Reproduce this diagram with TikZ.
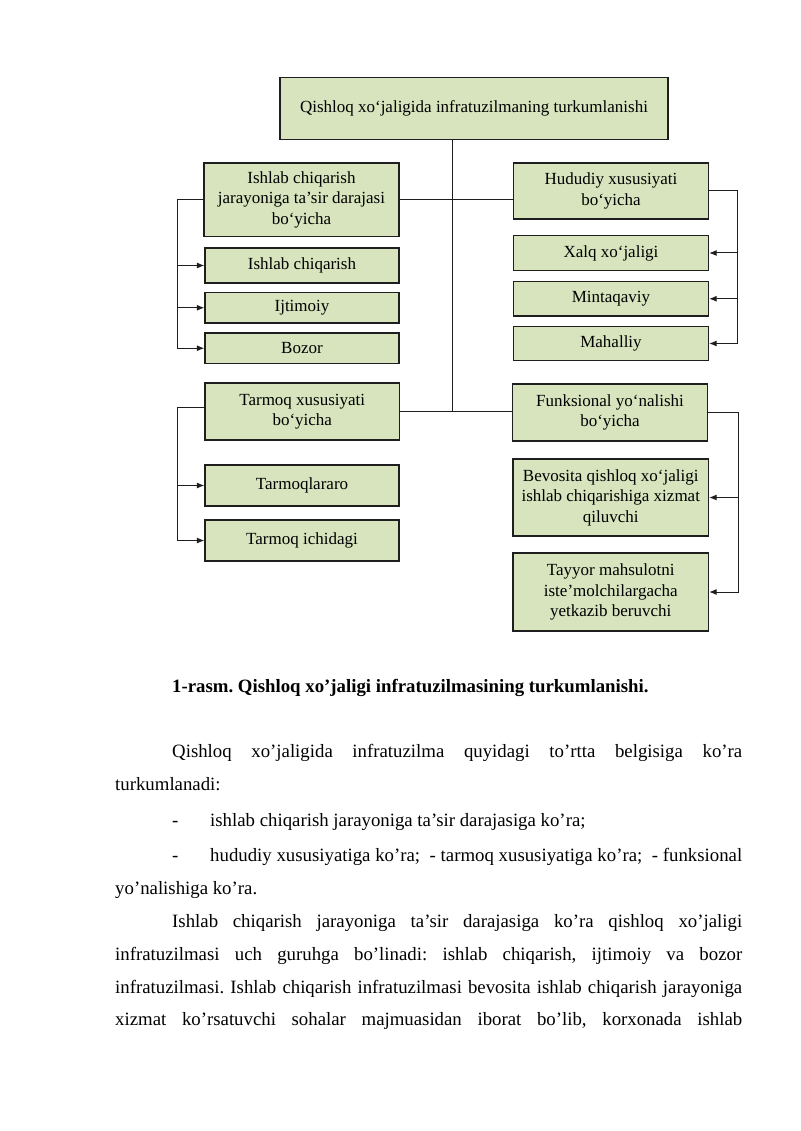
\documentclass[tikz,border=0pt]{standalone}
\usepackage{fontspec}
\setmainfont{Liberation Serif}
\usetikzlibrary{arrows.meta}
\definecolor{boxfill}{HTML}{D7E4BD}
\definecolor{edge}{HTML}{1E1E1E}
\frenchspacing
\begin{document}
\begin{tikzpicture}[x=1pt,y=-1pt,
 box/.style={draw=edge, line width=1.3pt, fill=boxfill, align=center, inner sep=0pt,
   font=\fontsize{17}{20.5}\selectfont, text=black},
 link/.style={draw=edge, line width=1pt},
 arr/.style={link, -{Latex[length=7.5pt,width=6pt]}},
 body/.style={anchor=base west, inner sep=0pt, font=\fontsize{18.8}{24}\selectfont},
 capt/.style={anchor=base west, inner sep=0pt, font=\bfseries\fontsize{18.8}{24}\selectfont}]
\useasboundingbox (0,0) rectangle (800,1131);
\fill[white] (0,0) rectangle (800,1131);

% boxes
\node[box, minimum width=388, minimum height=62] (top) at (474,108.5) {Qishloq xo‘jaligida infratuzilmaning turkumlanishi};
\node[box, minimum width=195, minimum height=73.5] (l1) at (301.5,199.75) {Ishlab chiqarish\\jarayoniga ta’sir darajasi\\bo‘yicha};
\node[box, minimum width=195, minimum height=56] (r1) at (611,191) {Hududiy xususiyati\\bo‘yicha};
\node[box, minimum width=194, minimum height=35] (l2) at (302,265.5) {Ishlab chiqarish};
\node[box, minimum width=194, minimum height=30.5] (l3) at (302,307.75) {Ijtimoiy};
\node[box, minimum width=194, minimum height=30.5] (l4) at (302,348.25) {Bozor};
\node[box, minimum width=195, minimum height=35] (r2) at (611,253) {Xalq xo‘jaligi};
\node[box, minimum width=195, minimum height=34.5] (r3) at (611,298.75) {Mintaqaviy};
\node[box, minimum width=195, minimum height=34] (r4) at (611,343.5) {Mahalliy};
\node[box, minimum width=194.5, minimum height=57] (tm) at (302.25,411.5) {Tarmoq xususiyati\\bo‘yicha};
\node[box, minimum width=195, minimum height=57] (fn) at (610,412.5) {Funksional yo‘nalishi\\bo‘yicha};
\node[box, minimum width=194, minimum height=41] (t1) at (302,485.5) {Tarmoqlararo};
\node[box, minimum width=194, minimum height=41] (t2) at (302,540.5) {Tarmoq ichidagi};
\node[box, minimum width=195.5, minimum height=77] (f1) at (610.75,497.5) {Bevosita qishloq xo‘jaligi\\ishlab chiqarishiga xizmat\\qiluvchi};
\node[box, minimum width=195.5, minimum height=78] (f2) at (610.75,592) {Tayyor mahsulotni\\iste’molchilargacha\\yetkazib beruvchi};

% connectors
\coordinate (tx) at (452.7,0);
\coordinate (lx) at (177.5,0);
\coordinate (rx) at (737,0);
\coordinate (fx) at (738.5,0);
\draw[link] (top.south -| tx) -- (tm.east -| tx);
\draw[link] (l1.east) -- (l1.east -| r1.west);
\draw[link] (tm.east) -- (tm.east -| fn.west);

\draw[arr] (l1.west) -| (l4.west -| lx) -- (l4.west);
\draw[arr] (l2.west -| lx) -- (l2.west);
\draw[arr] (l3.west -| lx) -- (l3.west);

\draw[arr] (r1.east) -| (r4.east -| rx) -- (r4.east);
\draw[arr] (r2.east -| rx) -- (r2.east);
\draw[arr] (r3.east -| rx) -- (r3.east);

\draw[arr] ([yshift=4pt]tm.west) -| (t2.west -| lx) -- (t2.west);
\draw[arr] (t1.west -| lx) -- (t1.west);

\draw[arr] (fn.east) -| (f2.east -| fx) -- (f2.east);
\draw[arr] (f1.east -| fx) -- (f1.east);

% caption and body text
\node[capt] (cap) at (172,692) {1-rasm. Qishloq xo’jaligi infratuzilmasining turkumlanishi.};
\node[body] (p1) at (172,757) {\makebox[570pt][s]{Qishloq xo’jaligida infratuzilma quyidagi to’rtta belgisiga ko’ra}};
\node[body] (p2) at (115,790) {turkumlanadi:};
\node[body] (d1) at (172,826) {-};
\node[body] (p3) at (210,826) {ishlab chiqarish jarayoniga ta’sir darajasiga ko’ra;};
\node[body] (d2) at (172,861) {-};
\node[body] (p4) at (210,861) {\makebox[532pt][s]{hududiy xususiyatiga ko’ra;\ \ - tarmoq xususiyatiga ko’ra;\ \ - funksional}};
\node[body] (p5) at (115,894) {yo’nalishiga ko’ra.};
\node[body] (p6) at (172,927) {\makebox[570pt][s]{Ishlab chiqarish jarayoniga ta’sir darajasiga ko’ra qishloq xo’jaligi}};
\node[body] (p7) at (115,960) {\makebox[627pt][s]{infratuzilmasi uch guruhga bo’linadi: ishlab chiqarish, ijtimoiy va bozor}};
\node[body] (p8) at (115,993) {\makebox[627pt][s]{infratuzilmasi. Ishlab chiqarish infratuzilmasi bevosita ishlab chiqarish jarayoniga}};
\node[body] (p9) at (115,1025) {\makebox[627pt][s]{xizmat ko’rsatuvchi sohalar majmuasidan iborat bo’lib, korxonada ishlab}};
\end{tikzpicture}
\end{document}
